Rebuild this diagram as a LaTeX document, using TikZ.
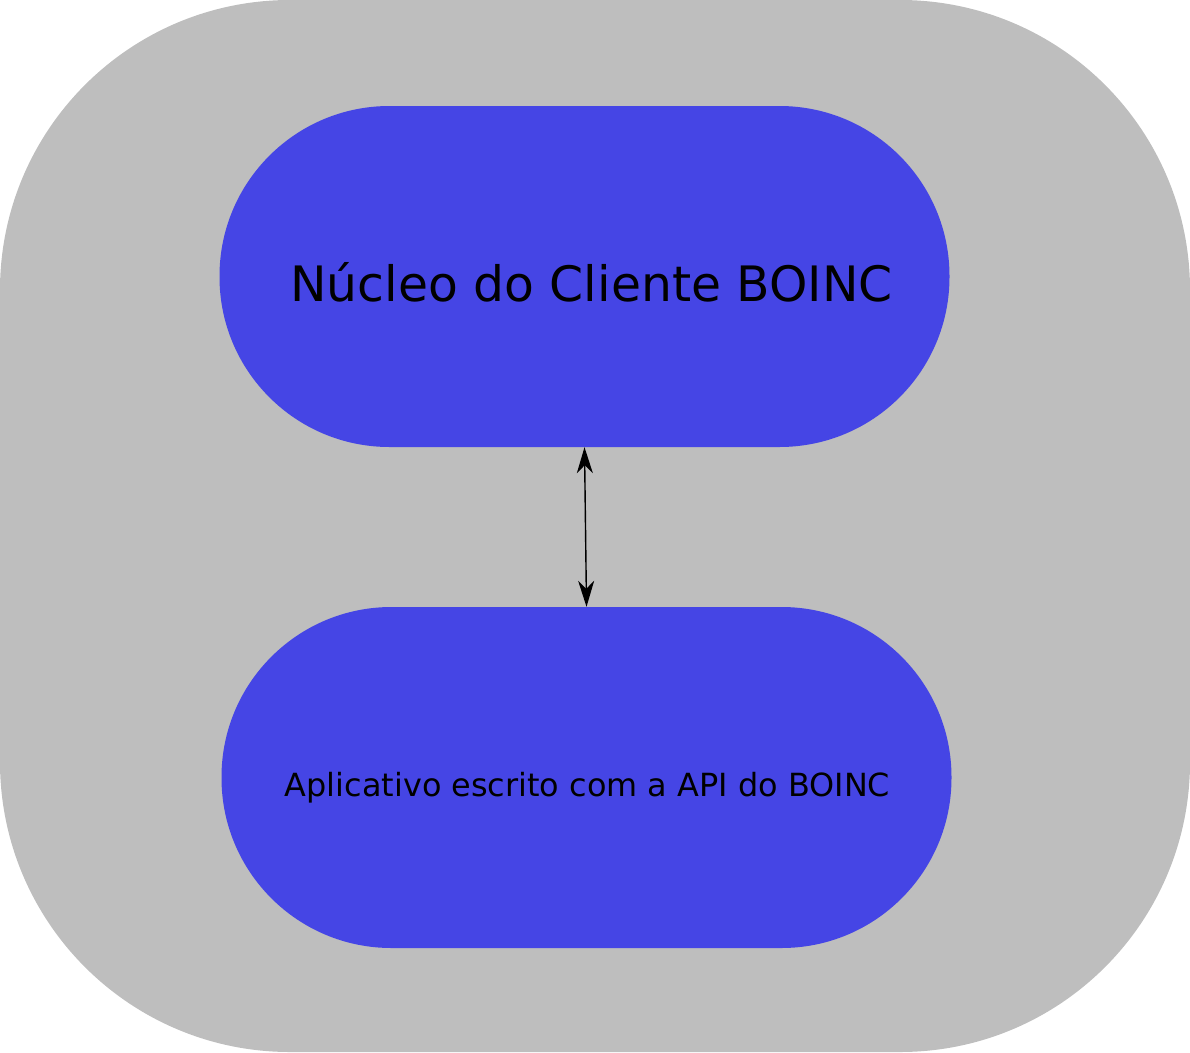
\documentclass[tikz,border=0pt]{standalone}
\usepackage{fontspec}
\setmainfont{DejaVu Sans}
\usetikzlibrary{arrows.meta}
\definecolor{boxgray}{RGB}{190,190,190}
\definecolor{boincblue}{RGB}{69,69,229}
\tikzset{
	pill/.style={fill=boincblue, rounded corners=170pt, minimum width=730pt, minimum height=341pt, inner sep=0pt},
	link/.style={line width=1.4pt, {Stealth[length=26pt,width=16pt,inset=8pt]}-{Stealth[length=26pt,width=16pt,inset=8pt]}}
}
\begin{document}
\begin{tikzpicture}[x=1pt,y=-1pt]
\fill[boxgray, rounded corners=290pt] (0,0) rectangle (1190,1052);
\path
	(584.5,276.5) node [pill, label={[xshift=7pt,yshift=-6pt,font=\fontsize{48.8}{52}\selectfont]center:Núcleo do Cliente BOINC}] (core) {}
	(586.5,777.5) node [pill, label={[xshift=1pt,yshift=-10pt,font=\fontsize{31.9}{36}\selectfont]center:Aplicativo escrito com a API do BOINC}] (app) {};
\draw[link] (core.south) -- (app.north);
\end{tikzpicture}
\end{document}
